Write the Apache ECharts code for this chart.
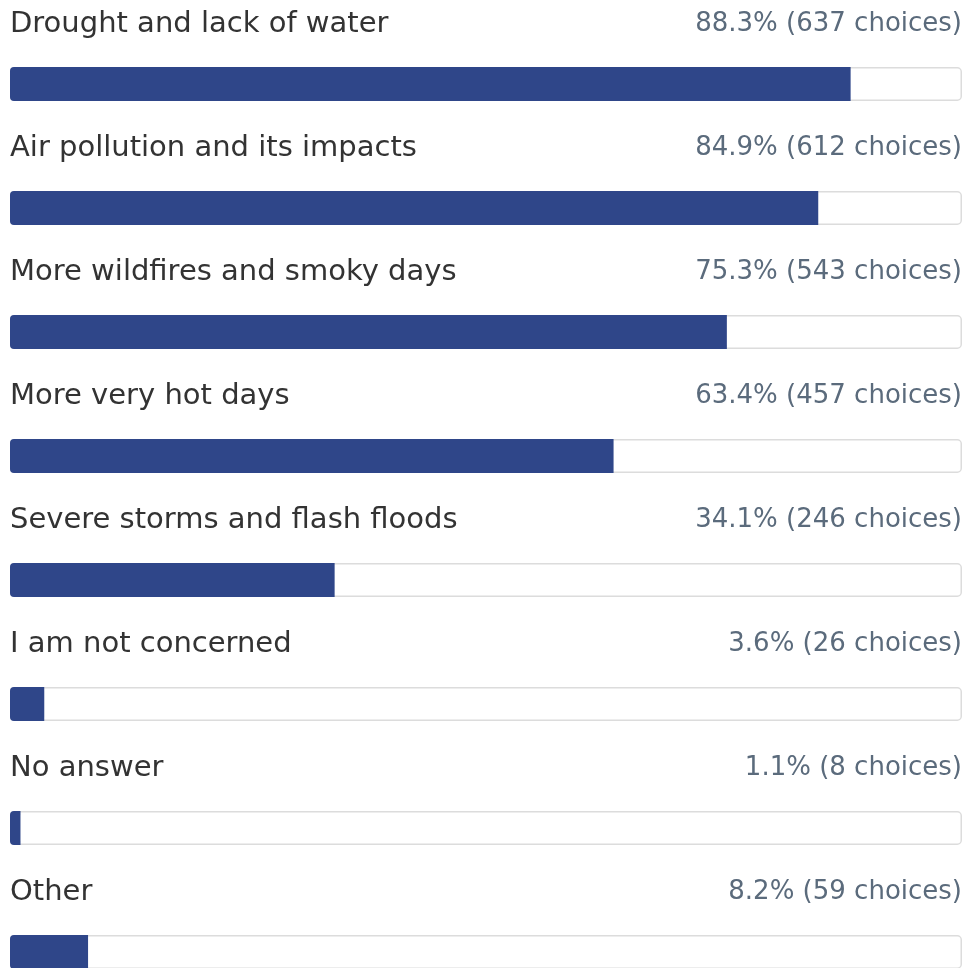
<!DOCTYPE html>
<html>
<head>
<meta charset="utf-8">
<script src="https://cdn.jsdelivr.net/npm/echarts@6/dist/echarts.min.js"></script>
<style>
  html, body { margin: 0; padding: 0; background: #fff; overflow: hidden; }
  /* taller than the window: the last track is cut by the bottom edge */
  #chart { width: 965px; height: 1014px; }
</style>
</head>
<body>
<div id="chart"></div>
<script>
'use strict';

var categories = [
  'Drought and lack of water',
  'Air pollution and its impacts',
  'More wildfires and smoky days',
  'More very hot days',
  'Severe storms and flash floods',
  'I am not concerned',
  'No answer',
  'Other'
];
var percents = [88.3, 84.9, 75.3, 63.4, 34.1, 3.6, 1.1, 8.2];
var counts = [637, 612, 543, 457, 246, 26, 8, 59];
var trackValues = categories.map(function(){ return 100; });

var chart = echarts.init(document.getElementById('chart'));

var option = {
  animation: false,
  textStyle: { fontFamily: 'DejaVu Sans' },
  grid: { left: 10, right: 3, top: 22, bottom: 0, containLabel: false, outerBoundsMode: 'none' },
  xAxis: { type: 'value', min: 0, max: 100, show: false },
  yAxis: { type: 'category', data: categories, inverse: true, show: false },
  series: [
    {
      name: 'track',
      type: 'bar',
      data: trackValues,
      barWidth: 34,
      barGap: '-100%',
      silent: true,
      itemStyle: {
        color: '#ffffff',
        borderColor: '#dcdcdc',
        borderWidth: 1.5,
        borderRadius: 4
      },
      label: {
        show: true,
        position: ['100%', -43],
        align: 'right',
        verticalAlign: 'middle',
        fontFamily: 'DejaVu Sans',
        fontSize: 26,
        color: '#5b6b7c',
        formatter: function(p){
          return percents[p.dataIndex].toFixed(1) + '% (' + counts[p.dataIndex] + ' choices)';
        }
      }
    },
    {
      name: 'share',
      type: 'bar',
      data: percents,
      barWidth: 34,
      barGap: '-100%',
      itemStyle: {
        color: '#2f4689',
        borderRadius: [4, 0, 0, 4]
      },
      label: {
        show: true,
        position: [0, -43],
        align: 'left',
        verticalAlign: 'middle',
        fontFamily: 'DejaVu Sans',
        fontSize: 29,
        color: '#333333',
        formatter: function(p){
          return categories[p.dataIndex];
        }
      }
    }
  ]
};

chart.setOption(option);
</script>
</body>
</html>
